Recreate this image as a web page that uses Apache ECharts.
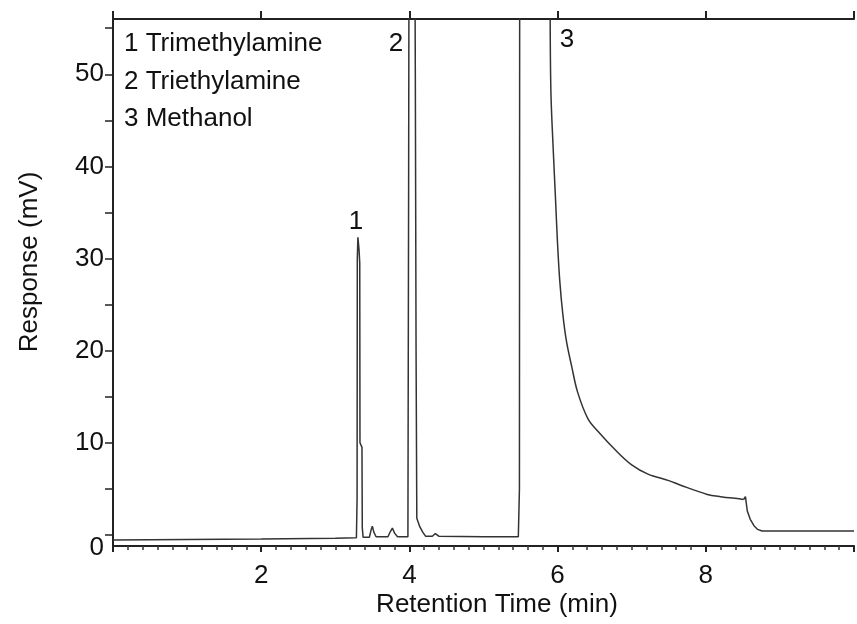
<!DOCTYPE html>
<html>
<head>
<meta charset="utf-8">
<script src="https://cdn.jsdelivr.net/npm/echarts@6/dist/echarts.min.js"></script>
<style>
  html, body { margin: 0; background: #fff; }
  #chart { width: 857px; height: 624px; }
</style>
</head>
<body>
<div id="chart"></div>
<script>
// chromatogram: [retention time (min), response (mV)]
var baseline = [[0, -0.55], [1, -0.5], [2, -0.45], [3, -0.35], [3.285, -0.3]];
var peak1 = [[3.294, 4], [3.297, 30], [3.305, 32.3], [3.32, 31], [3.33, 29.5], [3.333, 10],
  [3.36, 9.5], [3.364, 0.8], [3.375, -0.25]];
var smallPeaks = [[3.46, -0.25], [3.485, 0.6], [3.50, 0.95], [3.52, 0.3], [3.55, -0.2],
  [3.71, -0.2], [3.745, 0.4], [3.77, 0.75], [3.80, 0.2], [3.84, -0.2], [3.98, -0.2]];
var peak2 = [[3.99, 40], [4.0, 90], [4.06, 95], [4.08, 50], [4.09, 20], [4.10, 1.8], [4.14, 0.9],
  [4.18, 0.3], [4.22, -0.15], [4.31, -0.15], [4.35, 0.15], [4.40, -0.15], [5.0, -0.2], [5.47, -0.2]];
var peak3Front = [[5.485, 5], [5.49, 90], [5.89, 90], [5.90, 56]];
var peak3Decay = [[5.90, 56], [5.91, 48], [5.94, 42], [5.97, 36.8], [6.0, 31.5], [6.03, 27.5],
  [6.07, 24], [6.12, 21], [6.19, 18.3], [6.27, 15.5], [6.41, 12.6], [6.55, 11.2], [6.77, 9.3],
  [7.0, 7.6], [7.22, 6.6], [7.5, 5.9], [7.66, 5.4], [8.02, 4.4], [8.2, 4.15], [8.47, 3.9],
  [8.51, 3.85]];
var peak3End = [[8.51, 3.85], [8.535, 4.15], [8.56, 2.6], [8.60, 1.7], [8.65, 1.0], [8.70, 0.6],
  [8.76, 0.42], [10, 0.42]];

var yTicks = [0, 5, 10, 15, 20, 25, 30, 35, 40, 45, 50, 55];
var yLabels = [0, 10, 20, 30, 40, 50];
var legendLines = ['1 Trimethylamine', '2 Triethylamine', '3 Methanol'];
var peakNames = ['1', '2', '3'];

var font = '"Liberation Sans", Arial, sans-serif';
var ink = '#222';

var chart = echarts.init(document.getElementById('chart'));

var axisLine = { show: true, onZero: false, lineStyle: { color: ink, width: 2 } };
var traceStyle = { color: '#333', width: 1.5 };

function txt(s, x, y, align) {
  return { type: 'text', x: x, y: y, style: { text: s, font: '26px ' + font, fill: '#111', align: align || 'left', verticalAlign: 'middle' } };
}

chart.setOption({
  animation: false,
  backgroundColor: '#fff',
  grid: { left: 113, right: 0, top: 19, bottom: 78 },
  xAxis: [{
    type: 'value',
    position: 'bottom',
    min: 0,
    max: 10,
    interval: 2,
    axisLine: axisLine,
    axisTick: { show: true, length: 6, lineStyle: { color: ink, width: 2 } },
    minorTick: { show: true, splitNumber: 10, length: 4, lineStyle: { color: '#333', width: 1.5 } },
    splitLine: { show: false },
    axisLabel: {
      margin: 17, fontSize: 26, fontFamily: font, color: '#111',
      formatter: function (v) { return (v === 0 || v === 10) ? '' : String(v); }
    }
  }, {
    type: 'value',
    position: 'top',
    min: 0,
    max: 10,
    interval: 2,
    axisLine: axisLine,
    axisTick: { show: true, length: 8, lineStyle: { color: ink, width: 2 } },
    splitLine: { show: false },
    axisLabel: { show: false }
  }],
  yAxis: {
    type: 'value',
    min: -1.2,
    max: 56,
    axisLine: axisLine,
    axisTick: { show: true, length: 8, customValues: yTicks, lineStyle: { color: ink, width: 1.5 } },
    splitLine: { show: false },
    axisLabel: {
      customValues: yLabels, margin: 9, fontSize: 26, fontFamily: font, color: '#111',
      // the scanned "0" sits a little under its tick
      formatter: function (v) { return v === 0 ? '{z|0}' : String(v); },
      rich: { z: { fontSize: 26, fontFamily: font, color: '#111', padding: [26, 0, 0, 0] } }
    }
  },
  graphic: [
    txt(legendLines[0], 124, 44),
    txt(legendLines[1], 124, 82),
    txt(legendLines[2], 124, 119),
    txt(peakNames[0], 356, 222, 'center'),
    txt(peakNames[1], 396, 44, 'center'),
    txt(peakNames[2], 567, 40, 'center'),
    txt('Retention Time (min)', 497, 605, 'center'),
    { type: 'text', x: 30, y: 262, rotation: Math.PI / 2, style: { text: 'Response (mV)', font: '26px ' + font, fill: '#111', align: 'center', verticalAlign: 'middle' } }
  ],
  series: [{
    type: 'line',
    data: baseline.concat(peak1, smallPeaks, peak2, peak3Front),
    symbol: 'none',
    clip: true,
    lineStyle: traceStyle
  }, {
    type: 'line',
    data: peak3Decay,
    symbol: 'none',
    clip: true,
    smooth: 0.35,
    lineStyle: traceStyle
  }, {
    type: 'line',
    data: peak3End,
    symbol: 'none',
    clip: true,
    lineStyle: traceStyle
  }]
});
</script>
</body>
</html>
